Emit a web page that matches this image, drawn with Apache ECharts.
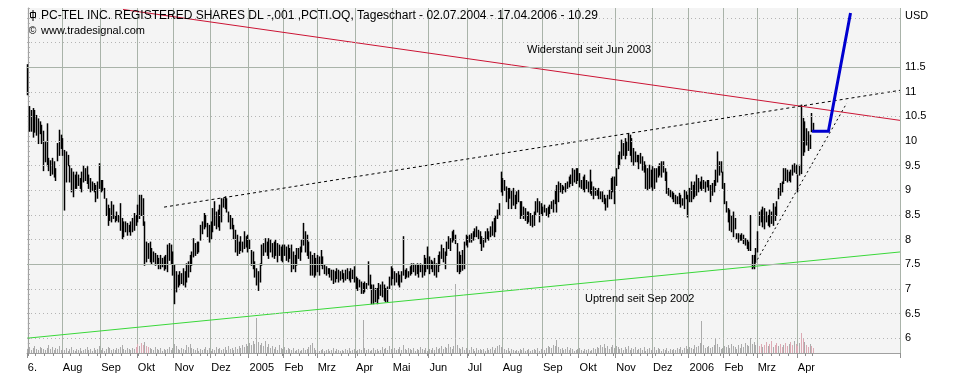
<!DOCTYPE html>
<html><head><meta charset="utf-8">
<script src="https://cdn.jsdelivr.net/npm/echarts@6/dist/echarts.min.js"></script>
<style>html,body{margin:0;padding:0;background:#fff}#c{width:958px;height:386px}</style>
</head><body><div id="c"></div>
<script>
// ---- data ----
const holidays = ['2004-07-05','2004-09-06','2004-11-25','2004-12-24','2005-01-17','2005-02-21','2005-03-25','2005-05-30','2005-07-04','2005-09-05','2005-11-24','2005-12-26','2006-01-02','2006-01-16','2006-02-20','2006-04-14'];
const monthNames = ['Jan','Feb','Mrz','Apr','Mai','Jun','Jul','Aug','Sep','Okt','Nov','Dez'];
const firstLabel = '6.';
const totalSlots = 500;
const gridLevels = [6,6.5,7,7.5,8,8.5,9,9.5,10,10.5,11,11.5,12,12.5];
const solidLevels = [7.5,11.5];

const high = [
11.55,10.7,10.62,10.66,10.62,10.52,10.45,10.39,10.32,10.2,
9.98,10.35,9.65,9.6,9.65,9.58,9.44,9.95,10.22,10.12,
10.05,9.81,9.78,9.71,9.5,9.44,9.37,9.31,9.37,9.31,
9.24,9.37,9.5,9.44,9.48,9.31,9.24,9.17,9.14,9.1,
9.17,9.54,9.2,9.2,9.04,8.83,8.7,8.63,8.77,8.7,
8.49,8.56,8.49,8.73,8.43,8.36,8.36,8.33,8.29,8.36,
8.43,8.53,8.49,8.7,8.9,8.9,8.83,8.36,7.95,7.92,
7.95,7.82,7.75,7.72,7.68,7.62,7.68,7.62,7.65,7.68,
7.89,7.92,7.89,7.75,7.48,7.35,7.28,7.35,7.31,7.41,
7.35,7.51,7.55,7.68,7.75,8.02,7.92,7.95,7.95,8.29,
8.36,8.53,8.49,8.33,8.29,8.36,8.63,8.77,8.56,8.6,
8.7,8.83,8.83,8.87,8.83,8.56,8.49,8.43,8.29,8.19,
8.09,7.95,8.06,7.95,8.16,8.06,8.09,7.99,7.78,7.75,
7.55,7.41,7.35,7.51,7.89,7.92,8.02,7.95,8.02,7.99,
7.92,7.95,7.99,7.92,7.89,7.85,7.89,7.89,7.85,7.89,
7.82,7.89,7.75,7.68,7.82,7.82,7.85,7.99,8.33,8.16,
8.09,7.95,7.75,7.68,7.72,7.62,7.68,7.65,7.78,7.65,
7.48,7.45,7.41,7.41,7.38,7.38,7.35,7.41,7.38,7.35,
7.38,7.31,7.38,7.41,7.35,7.41,7.38,7.45,7.24,7.21,
7.18,7.14,7.11,7.14,7.11,7.55,7.28,7.08,7.08,7.01,
7.01,7.11,7.08,7.14,7.08,7.01,7.04,7.24,7.45,7.41,
7.35,7.31,7.35,7.28,7.35,8.06,7.38,7.41,7.35,7.45,
7.51,7.51,7.48,7.51,7.48,7.51,7.48,7.68,7.62,7.85,
7.65,7.58,7.55,7.62,7.51,7.68,7.75,7.89,7.82,7.75,
7.95,8.06,8.02,8.16,8.19,8.09,7.92,7.75,7.68,7.78,
7.95,8.09,8.06,8.09,8.12,8.16,8.22,8.26,8.19,8.16,
8.06,8.02,8.16,8.22,8.16,8.26,8.36,8.43,8.49,8.6,
8.73,9.37,9.24,9.2,9.07,9.04,9.04,9.0,9.04,8.9,
8.97,9.0,8.77,8.77,8.66,8.63,8.56,8.56,8.53,8.49,
8.56,8.77,8.83,8.77,8.73,8.66,8.7,8.63,8.66,8.7,
8.77,8.8,9.0,9.1,9.17,9.14,9.1,9.07,9.14,9.17,
9.27,9.31,9.44,9.41,9.44,9.44,9.34,9.2,9.27,9.31,
9.2,9.17,9.41,9.17,9.07,9.04,9.0,9.04,8.97,8.97,
8.9,8.83,8.9,9.0,9.24,9.27,9.27,9.44,9.71,9.78,
10.02,9.95,10.05,9.98,10.15,10.12,10.05,9.85,9.78,9.71,
9.71,9.75,9.68,9.58,9.51,9.44,9.51,9.41,9.48,9.44,
9.44,9.48,9.54,9.58,9.58,9.44,9.37,9.04,9.0,8.97,
8.94,8.9,8.87,8.94,8.9,8.83,9.0,8.97,8.9,9.04,
9.17,9.1,9.17,9.31,9.24,9.17,9.27,9.2,9.17,9.2,
9.2,9.1,9.14,9.2,9.41,9.78,9.58,9.58,9.37,9.14,
8.77,8.63,8.6,8.49,8.56,8.43,8.12,8.12,8.09,8.12,
8.09,8.02,7.99,7.95,8.49,7.68,7.68,7.82,8.16,8.56,
8.6,8.66,8.63,8.56,8.49,8.6,8.56,8.73,8.66,8.77,
9.04,9.14,9.17,9.44,9.44,9.41,9.37,9.41,9.51,9.54,
9.51,9.31,9.51,10.73,10.46,10.39,10.25,10.19,10.12,10.56,
10.36];

const low = [
10.94,10.2,10.2,10.08,10.18,10.12,9.95,10.15,9.95,9.4,
9.58,9.5,9.4,9.3,9.33,9.27,9.2,9.6,9.71,9.85,
9.71,8.6,9.17,9.5,9.17,8.97,8.87,9.04,9.04,9.1,
9.04,8.97,9.17,9.2,9.14,9.04,8.97,9.0,8.97,8.77,
8.84,9.04,8.97,9.0,8.84,8.49,8.29,8.39,8.36,8.43,
8.36,8.39,8.36,8.19,8.02,8.06,8.16,8.09,8.16,8.09,
8.16,8.19,8.29,8.36,8.43,8.49,8.29,7.48,7.55,7.62,
7.55,7.51,7.55,7.48,7.51,7.41,7.41,7.45,7.38,7.41,
7.35,7.58,7.51,7.28,6.7,6.94,7.04,7.08,7.11,7.08,
7.04,7.14,7.24,7.35,7.48,7.65,7.68,7.72,7.75,7.99,
8.12,8.22,8.26,8.06,7.95,8.02,8.16,8.29,8.22,8.26,
8.19,8.36,8.66,8.63,8.56,8.36,8.22,8.22,8.02,7.75,
7.68,7.72,7.78,7.75,7.82,7.85,7.75,7.82,7.48,7.41,
7.24,7.08,6.97,7.14,7.48,7.68,7.75,7.68,7.62,7.75,
7.65,7.62,7.68,7.55,7.68,7.58,7.55,7.68,7.58,7.55,
7.62,7.35,7.41,7.35,7.48,7.62,7.58,7.75,7.89,7.75,
7.68,7.62,7.28,7.28,7.24,7.28,7.35,7.28,7.48,7.41,
7.31,7.28,7.31,7.24,7.18,7.11,7.14,7.21,7.14,7.18,
7.21,7.14,7.18,7.21,7.18,7.14,7.21,7.14,7.01,6.97,
7.04,6.91,6.91,6.94,7.01,7.08,7.01,6.7,6.7,6.74,
6.7,6.8,6.87,6.84,6.77,6.74,6.74,7.01,7.08,7.21,
7.08,7.14,7.08,7.04,7.14,7.28,7.21,7.24,7.24,7.28,
7.31,7.35,7.28,7.31,7.24,7.35,7.24,7.28,7.35,7.41,
7.31,7.41,7.35,7.28,7.24,7.35,7.48,7.62,7.55,7.41,
7.68,7.82,7.78,7.95,7.99,7.92,7.35,7.31,7.35,7.38,
7.41,7.89,7.85,7.95,7.95,7.99,8.06,8.06,8.02,7.92,
7.78,7.85,7.95,8.02,7.99,8.06,8.09,8.06,8.16,8.43,
8.49,8.97,8.9,9.0,8.77,8.63,8.84,8.63,8.7,8.63,
8.73,8.77,8.43,8.49,8.43,8.39,8.33,8.36,8.29,8.26,
8.29,8.49,8.56,8.36,8.53,8.49,8.56,8.49,8.46,8.53,
8.63,8.56,8.73,8.56,8.77,8.97,8.94,9.0,8.97,9.04,
9.07,9.14,9.1,9.17,9.14,9.2,9.07,9.04,9.0,8.97,
9.04,8.97,8.94,8.9,8.83,8.9,8.9,8.83,8.83,8.77,
8.73,8.6,8.66,8.83,8.83,8.97,8.73,9.1,9.44,9.51,
9.64,9.71,9.64,9.71,9.81,9.71,9.58,9.51,9.58,9.58,
9.44,9.55,9.41,9.37,9.04,9.0,9.04,9.07,9.0,9.04,
9.17,9.27,9.31,9.27,9.37,9.2,8.94,8.9,8.87,8.83,
8.77,8.73,8.73,8.73,8.66,8.7,8.63,8.83,8.46,8.77,
8.77,8.83,8.87,8.9,8.97,9.04,9.0,9.04,8.97,9.07,
9.0,8.77,8.9,8.97,9.1,9.17,9.31,9.37,9.04,8.73,
8.56,8.36,8.19,8.16,8.06,8.22,8.02,7.95,7.99,7.99,
7.92,7.89,7.82,7.78,7.78,7.41,7.41,7.55,7.75,8.29,
8.36,8.26,8.22,8.36,8.29,8.26,8.33,8.29,8.39,8.49,
8.83,8.9,8.97,9.14,9.2,9.17,9.2,9.17,9.31,9.37,
9.34,8.97,9.31,9.34,9.71,9.78,9.92,9.81,9.85,10.19,
10.22];

// volume (relative units)
const volume = [
4,6,3,5,7,4,3,6,5,4, 3,5,8,4,6,3,5,4,7,3, 4,3,5,2,4,6,3,2,4,3, 5,2,3,4,6,3,4,2,5,3,
4,7,3,5,2,4,6,5,3,4, 3,5,4,6,8,4,3,5,4,3, 5,4,6,9,7,10,8,11,7,6, 5,4,3,6,4,3,5,2,4,3,
4,6,3,5,9,7,4,3,5,4, 3,8,6,9,5,4,3,5,2,4, 3,4,6,3,5,2,4,3,6,4, 5,3,4,6,3,7,4,5,3,6,
4,7,5,8,6,9,7,10,8,12, 9,35,11,8,10,7,12,6,9,5, 7,4,6,3,8,5,4,6,3,5, 4,3,5,2,3,4,2,3,5,3,
4,6,8,10,5,3,4,2,3,4, 2,3,4,2,3,5,2,4,3,2, 3,2,4,3,5,2,3,4,2,3, 4,3,33,5,3,4,2,3,5,3,
4,2,3,6,4,5,3,7,4,3, 5,3,4,6,3,8,4,3,5,4, 3,5,2,4,3,6,4,3,5,2, 4,3,5,3,6,4,5,7,4,6,
5,9,6,4,7,69,8,5,4,6, 3,5,4,3,6,4,2,5,3,4, 3,4,2,5,3,4,6,3,5,7, 8,6,5,4,3,5,2,4,3,2,
3,2,4,3,5,2,3,4,2,3, 4,3,5,2,4,6,3,5,7,6, 5,8,7,13,6,4,5,3,4,6, 3,5,4,2,3,4,5,3,2,4,
3,4,2,3,5,4,6,5,8,6, 9,5,7,4,6,8,5,7,6,4, 5,3,6,4,7,3,5,4,6,3, 4,5,3,6,2,4,5,3,4,6,
3,5,4,2,4,3,5,2,4,3, 4,3,5,4,6,3,5,7,4,6, 5,4,8,6,7,10,32,8,5,6, 7,5,6,8,14,9,6,4,5,7,
6,8,5,9,7,6,4,8,5,9, 6,10,8,7,15,9,11,8,10,7, 9,6,8,11,7,9,12,6,8,10, 7,9,6,8,10,7,9,11,8,12,
9,7,10,20,14,11,8,6,9,7, 5];
const pinkRanges = [[62,70],[418,450]];

// trend lines: [bar index, price]
const resistanceLine = [[54.5,12.67],[499.5,10.42]];
const uptrendLine = [[-0.5,6.0],[499.5,7.75]];
const upperChannel = [[78,8.66],[499.5,11.03]];
const risingLine = [[415,7.42],[469,10.77]];
const projection = [[450,10.2],[458.5,10.2],[471,12.57]];

// ---- build trading-day categories ----
const days = [];
{
  const hol = new Set(holidays);
  let t = Date.UTC(2004,6,2), end = Date.UTC(2006,3,17);
  for (; t <= end; t += 86400000) {
    const d = new Date(t), wd = d.getUTCDay();
    if (wd === 0 || wd === 6) continue;
    const s = d.toISOString().slice(0,10);
    if (hol.has(s)) continue;
    days.push(d);
  }
}
const nBars = Math.min(days.length, high.length);
const cats = [];
const monthStart = [], weekStart = [], labelAt = {};
for (let i = 0; i < totalSlots; i++) {
  if (i < days.length) {
    const d = days[i];
    cats.push(d.toISOString().slice(0,10));
    const prev = i > 0 ? days[i-1] : null;
    const ms = !prev || prev.getUTCMonth() !== d.getUTCMonth();
    monthStart.push(ms);
    weekStart.push(!prev || d.getUTCDay() < prev.getUTCDay());
    if (i === 0) labelAt[i] = firstLabel;
    else if (ms) labelAt[i] = d.getUTCMonth() === 0 ? String(d.getUTCFullYear()) : monthNames[d.getUTCMonth()];
  } else {
    cats.push('');
    monthStart.push(false);
    weekStart.push(false);
  }
}
const priceData = [];
for (let i = 0; i < nBars; i++) priceData.push([i, low[i], high[i]]);
const volData = [];
for (let i = 0; i < Math.min(nBars, volume.length); i++) {
  const pink = pinkRanges.some(r => i >= r[0] && i <= r[1]) && (i % 3 !== 1);
  volData.push([i, volume[i], pink ? 1 : 0]);
}

const FONT = '"Liberation Sans", Arial, sans-serif';
const chart = echarts.init(document.getElementById('c'), null, {renderer: 'canvas'});
const isHalf = v => Math.abs(v*2 - Math.round(v*2)) < 1e-6;

chart.setOption({
  animation: false,
  backgroundColor: '#ffffff',
  grid: {left: 27, right: 58, top: 8, bottom: 33, show: true, backgroundColor: '#f4f4f4', borderWidth: 0, containLabel: false, outerBoundsMode: 'none'},
  xAxis: [
    {
      type: 'category', data: cats, boundaryGap: true, position: 'bottom',
      axisLine: {show: true, lineStyle: {color: '#a0a0a0', width: 1}},
      axisTick: {show: true, length: 3, interval: (i) => weekStart[i], lineStyle: {color: '#909090'}},
      axisLabel: {show: true, interval: (i) => labelAt[i] !== undefined, formatter: (v, i) => labelAt[i] || '',
        align: 'left', margin: 9, color: '#000', fontFamily: FONT, fontSize: 11, hideOverlap: false},
      splitLine: {show: true, interval: (i) => monthStart[i] && i > 0, lineStyle: {color: '#a9b3a9', width: 1}}
    },
    {type: 'value', min: -0.5, max: totalSlots - 0.5, show: false, position: 'top'},
    {
      type: 'category', data: cats, boundaryGap: true, position: 'bottom', offset: 0,
      axisLine: {show: false},
      axisTick: {show: true, length: 5, interval: (i) => monthStart[i], lineStyle: {color: '#909090'}},
      axisLabel: {show: false}, splitLine: {show: false}
    }
  ],
  yAxis: [
    {
      type: 'value', position: 'right', min: 5.7, max: 12.7, interval: 0.1, scale: true,
      axisLine: {show: true, lineStyle: {color: '#a0a0a0'}},
      axisTick: {show: true, length: 2, lineStyle: {color: '#a8a8a8'}},
      axisLabel: {show: true, margin: 5, color: '#000', fontFamily: FONT, fontSize: 11,
        formatter: (v) => (isHalf(v) && v > 5.99 && v < 11.51) ? String(Math.round(v*10)/10) : ''},
      splitLine: {show: false}
    },
    {type: 'value', min: 0, max: 345, show: false}
  ],
  series: [
    {
      type: 'line', xAxisIndex: 1, yAxisIndex: 0, data: [[0, 6]], symbol: 'none', silent: true,
      lineStyle: {opacity: 0}, z: 1,
      markLine: {silent: true, symbol: ['none','none'], label: {show: false},
        lineStyle: {color: '#b4b4b4', width: 1, type: [1,3]},
        data: gridLevels.map(v => solidLevels.includes(v)
          ? {yAxis: v, lineStyle: {type: 'solid', color: '#a9b3a9'}}
          : {yAxis: v})}
    },
    {
      type: 'custom', xAxisIndex: 0, yAxisIndex: 1, data: volData, z: 2, silent: true,
      encode: {x: 0, y: 1},
      renderItem: (params, api) => {
        const i = api.value(0);
        const a = api.coord([i, 0]), b = api.coord([i, api.value(1)]);
        const x = Math.floor(a[0]) + 0.5;
        return {type: 'line', shape: {x1: x, y1: a[1], x2: x, y2: b[1]},
          style: {stroke: api.value(2) ? '#dcaab4' : '#ababab', lineWidth: 1}};
      }
    },
    {
      type: 'custom', xAxisIndex: 0, yAxisIndex: 0, data: priceData, z: 3, silent: true,
      encode: {x: 0, y: [1, 2]},
      renderItem: (params, api) => {
        const i = api.value(0);
        const a = api.coord([i, api.value(1)]), b = api.coord([i, api.value(2)]);
        const x = Math.floor(a[0]) + 0.5;
        return {type: 'line', shape: {x1: x, y1: a[1] + 0.5, x2: x, y2: b[1] - 0.5},
          style: {stroke: '#000000', lineWidth: 1.5}};
      }
    },
    {type: 'line', xAxisIndex: 1, yAxisIndex: 0, data: uptrendLine, symbol: 'none', silent: true, z: 4,
      lineStyle: {color: '#3ad83a', width: 1}},
    {type: 'line', xAxisIndex: 1, yAxisIndex: 0, data: resistanceLine, symbol: 'none', silent: true, z: 4,
      lineStyle: {color: '#cc1434', width: 1}},
    {type: 'line', xAxisIndex: 1, yAxisIndex: 0, data: upperChannel, symbol: 'none', silent: true, z: 4,
      lineStyle: {color: '#000000', width: 1, type: [3,3]}},
    {type: 'line', xAxisIndex: 1, yAxisIndex: 0, data: risingLine, symbol: 'none', silent: true, z: 4,
      lineStyle: {color: '#000000', width: 1, type: [2,3]}},
    {type: 'line', xAxisIndex: 1, yAxisIndex: 0, data: projection, symbol: 'none', silent: true, z: 5,
      lineStyle: {color: '#0000d0', width: 3, cap: 'square', join: 'miter'}}
  ],
  graphic: [
    {type: 'rect', shape: {x: 30.5, y: 12.5, width: 5, height: 5}, style: {fill: 'none', stroke: '#000', lineWidth: 1}, z: 10},
    {type: 'line', shape: {x1: 33, y1: 10, x2: 33, y2: 21}, style: {stroke: '#000', lineWidth: 1}, z: 10},
    {type: 'text', x: 41, y: 16, z: 10, style: {text: 'PC-TEL INC. REGISTERED SHARES DL -,001 ,PCTI.OQ, Tageschart - 02.07.2004 - 17.04.2006 - 10.29', font: '12px ' + FONT, fill: '#000', verticalAlign: 'middle'}},
    {type: 'text', x: 29, y: 31, z: 10, style: {text: '\u00a9', font: '10px ' + FONT, fill: '#000', verticalAlign: 'middle'}},
    {type: 'text', x: 41, y: 31, z: 10, style: {text: 'www.tradesignal.com', font: '11px ' + FONT, fill: '#000', verticalAlign: 'middle'}},
    {type: 'text', x: 527, y: 50, z: 10, style: {text: 'Widerstand seit Jun 2003', font: '11px ' + FONT, fill: '#000', verticalAlign: 'middle'}},
    {type: 'text', x: 585, y: 299, z: 10, style: {text: 'Uptrend seit Sep 2002', font: '11px ' + FONT, fill: '#000', verticalAlign: 'middle'}},
    {type: 'text', x: 905, y: 16, z: 10, style: {text: 'USD', font: '11px ' + FONT, fill: '#000', verticalAlign: 'middle'}}
  ]
});
</script></body></html>
